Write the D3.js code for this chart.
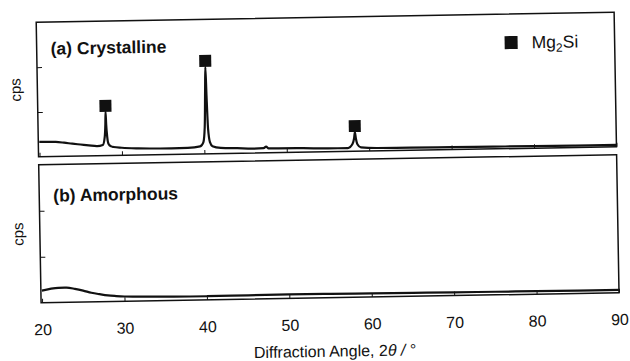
<!DOCTYPE html>
<html>
<head>
<meta charset="utf-8">
<script src="https://cdn.jsdelivr.net/npm/d3@7"></script>
<style>
  body { margin: 0; background: #fff; }
  svg { display: block; }
</style>
</head>
<body>
<svg id="chart" width="630" height="361"></svg>
<script>
// values
const xTicks = [20, 30, 40, 50, 60, 70, 80, 90];
const yTicks = [1000, 2000];

const crystAngle = [20, 21, 22, 23, 24, 25, 26, 27, 27.7, 27.95, 28.05, 28.1, 28.15, 28.25, 28.4, 28.7, 29, 30, 32, 34, 36, 38,
    39.5, 39.9, 40.1, 40.22, 40.3, 40.38, 40.5, 40.7, 41, 42, 44, 46, 47.2, 47.5, 47.8, 49, 52, 55,
    57.4, 58.0, 58.2, 58.3, 58.4, 58.6, 59, 61, 65, 70, 75, 80, 85, 90];
const crystCps = [335, 330, 325, 305, 280, 258, 235, 215, 240, 420, 700, 975, 700, 420, 260, 205, 190, 170, 150, 140, 135, 140,
    170, 260, 600, 1400, 1940, 1300, 560, 260, 170, 130, 115, 100, 105, 140, 100, 95, 90, 75,
    75, 170, 300, 430, 300, 150, 85, 65, 60, 55, 50, 45, 42, 40];

const amorAngle = [20, 21, 22, 23, 24, 25, 26, 27, 28, 29, 30, 32, 34, 36, 38, 40, 45, 50, 55, 60, 65, 70, 75, 80, 85, 90];
const amorCps = [265, 300, 320, 318, 290, 250, 200, 165, 135, 118, 105, 95, 88, 82, 80, 80, 85, 88, 85, 80, 75, 70, 68, 65, 62, 60];

// Mg2Si reflections
const peakAngle = [28.1, 40.3, 58.3];
const peakCps = [975, 1940, 430];

const ink = "#111";
const font = "'Liberation Sans', Arial, sans-serif";
const left = 39, right = 617;

const panels = [
    { name: "(a) Crystalline", top: 17.5, bottom: 152, titleY: 50, angle: crystAngle, cps: crystCps },
    { name: "(b) Amorphous", top: 160, bottom: 298, titleY: 197, angle: amorAngle, cps: amorCps }
];

const x = d3.scaleLinear().domain([20, 90]).range([40, 617]);

const svg = d3.select("#chart");
svg.append("rect").attr("width", 630).attr("height", 361).attr("fill", "#fff");

// the scan is tilted by about one degree
const root = svg.append("g").attr("transform", "rotate(-1,315,180)");

panels.forEach((p, i) => {
    const y = d3.scaleLinear().domain([0, 3000]).range([p.bottom, p.top]);
    const g = root.append("g");

    // y ticks (no labels)
    g.append("g")
        .attr("transform", `translate(${left},0)`)
        .call(d3.axisLeft(y).tickValues(yTicks).tickSize(-5).tickFormat(""))
        .call(a => a.select(".domain").remove())
        .selectAll("line").attr("stroke", ink);

    // x ticks
    const xa = d3.axisBottom(x).tickValues(xTicks).tickSizeInner(-4).tickSizeOuter(0).tickPadding(21);
    if (i === 0) xa.tickFormat("");
    const xg = g.append("g")
        .attr("transform", `translate(0,${p.bottom})`)
        .call(xa)
        .call(a => a.select(".domain").remove());
    xg.selectAll("line").attr("stroke", ink);
    xg.selectAll("text")
        .attr("fill", ink)
        .attr("font-family", font)
        .attr("font-size", 16);

    // curve
    const pts = p.angle.map((a, k) => ({ a: a, c: p.cps[k] }));
    g.append("path")
        .datum(pts)
        .attr("fill", "none")
        .attr("stroke", ink)
        .attr("stroke-width", 2.2)
        .attr("stroke-linejoin", "round")
        .attr("d", d3.line().x(d => x(d.a)).y(d => y(d.c)).curve(d3.curveMonotoneX));

    // frame
    g.append("rect")
        .attr("x", left)
        .attr("y", p.top)
        .attr("width", right - left)
        .attr("height", p.bottom - p.top)
        .attr("fill", "none")
        .attr("stroke", ink)
        .attr("stroke-width", 1.5);

    // panel title
    g.append("text")
        .attr("x", 53)
        .attr("y", p.titleY)
        .attr("font-family", font)
        .attr("font-size", 17.5)
        .attr("font-weight", "bold")
        .attr("fill", ink)
        .text(p.name);

    // y label
    g.append("text")
        .attr("transform", `translate(17.5,${(p.top + p.bottom) / 2}) rotate(-90)`)
        .attr("text-anchor", "middle")
        .attr("dy", "0.32em")
        .attr("font-family", font)
        .attr("font-size", 15)
        .attr("fill", ink)
        .text("cps");

    // Mg2Si markers on top of the peaks
    if (i === 0) {
        const s = 12;
        g.selectAll("rect.mark")
            .data(peakAngle)
            .enter().append("rect")
            .attr("class", "mark")
            .attr("x", d => x(d) - s / 2)
            .attr("y", (d, k) => y(peakCps[k]) - s)
            .attr("width", s)
            .attr("height", s)
            .attr("fill", ink);
    }
});

// legend
root.append("rect")
    .attr("x", 507).attr("y", 39.5)
    .attr("width", 13).attr("height", 13)
    .attr("fill", ink);
const leg = root.append("text")
    .attr("x", 534).attr("y", 52)
    .attr("font-family", font)
    .attr("font-size", 17.5)
    .attr("fill", ink);
leg.append("tspan").text("Mg");
leg.append("tspan").attr("font-size", 12).attr("dy", 4).text("2");
leg.append("tspan").attr("dy", -4).text("Si");

// x axis title
const xt = root.append("text")
    .attr("x", 332).attr("y", 357)
    .attr("text-anchor", "middle")
    .attr("font-family", font)
    .attr("font-size", 16)
    .attr("fill", ink);
xt.append("tspan").text("Diffraction Angle, 2");
xt.append("tspan").attr("font-style", "italic").text("\u03B8 / ");
xt.append("tspan").text("\u00B0");
</script>
</body>
</html>
